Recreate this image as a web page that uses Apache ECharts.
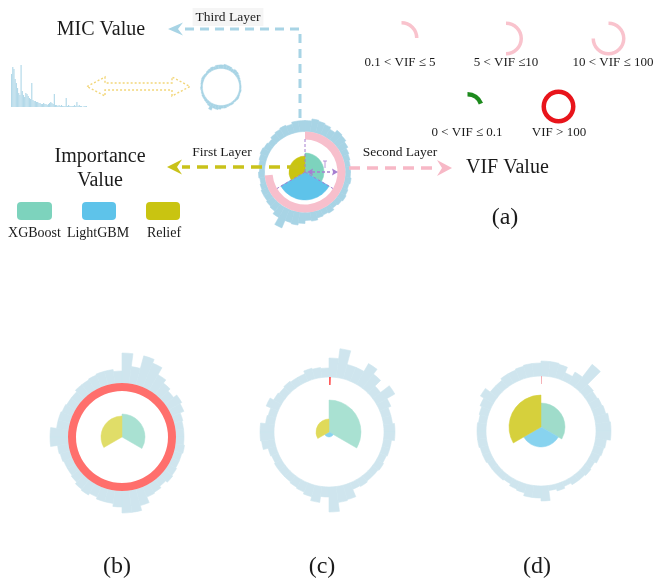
<!DOCTYPE html>
<html>
<head>
<meta charset="utf-8">
<script src="https://cdn.jsdelivr.net/npm/echarts@6/dist/echarts.min.js"></script>
<style>
  html, body { margin: 0; padding: 0; background: #fff; }
  #chart { width: 656px; height: 583px; }
</style>
</head>
<body>
<div id="chart"></div>
<script>
// ---- data -------------------------------------------------------------
const models = ['XGBoost', 'LightGBM', 'Relief'];
const features = Array.from({ length: 48 }, (_, i) => 'F' + (i + 1));

// MIC value of each feature, drawn as the outer bar ring (third layer)
const micA = [0.11, 0.13, 0.12, 0.11, 0.09, 0.12, 0.11, 0.09, 0.07, 0.06, 0.05, 0.05,
              0.05, 0.06, 0.05, 0.06, 0.07, 0.06, 0.05, 0.07, 0.06, 0.07, 0.09, 0.08,
              0.11, 0.13, 0.12, 0.20, 0.12, 0.09, 0.08, 0.07, 0.07, 0.06, 0.05, 0.06,
              0.05, 0.06, 0.07, 0.08, 0.07, 0.06, 0.08, 0.09, 0.10, 0.09, 0.11, 0.11];
const micB = [0.30, 0.17, 0.30, 0.26, 0.18, 0.14, 0.11, 0.15, 0.13, 0.09, 0.08, 0.08,
              0.08, 0.09, 0.08, 0.08, 0.09, 0.10, 0.08, 0.10, 0.11, 0.17, 0.22, 0.22,
              0.16, 0.13, 0.13, 0.11, 0.13, 0.12, 0.10, 0.09, 0.09, 0.10, 0.11, 0.18,
              0.18, 0.12, 0.12, 0.11, 0.10, 0.10, 0.12, 0.12, 0.13, 0.14, 0.14, 0.12];
const micC = [0.19, 0.29, 0.15, 0.15, 0.24, 0.18, 0.10, 0.21, 0.12, 0.09, 0.09, 0.11,
              0.11, 0.08, 0.08, 0.07, 0.08, 0.07, 0.07, 0.08, 0.07, 0.15, 0.16, 0.25,
              0.10, 0.16, 0.12, 0.10, 0.09, 0.08, 0.08, 0.08, 0.07, 0.08, 0.13, 0.14,
              0.14, 0.09, 0.08, 0.13, 0.09, 0.08, 0.09, 0.08, 0.08, 0.11, 0.10, 0.09];
const micD = [0.15, 0.15, 0.14, 0.08, 0.13, 0.29, 0.11, 0.10, 0.11, 0.12, 0.14, 0.15,
              0.15, 0.11, 0.10, 0.09, 0.07, 0.08, 0.07, 0.07, 0.05, 0.07, 0.05, 0.15,
              0.12, 0.12, 0.09, 0.08, 0.06, 0.07, 0.07, 0.07, 0.08, 0.08, 0.09, 0.09,
              0.09, 0.08, 0.09, 0.11, 0.15, 0.09, 0.09, 0.11, 0.11, 0.12, 0.13, 0.13];

// MIC values of all features as a plain bar chart (thumbnail)
const micSorted = [0.33, 0.40, 0.38, 0.28, 0.24, 0.19, 0.14, 0.12, 0.42, 0.16, 0.12, 0.10,
                   0.14, 0.13, 0.11, 0.09, 0.08, 0.24, 0.07, 0.06, 0.06, 0.05, 0.05, 0.04,
                   0.04, 0.03, 0.03, 0.04, 0.03, 0.03, 0.02, 0.03, 0.04, 0.05, 0.04, 0.03,
                   0.13, 0.02, 0.02, 0.01, 0.02, 0.01, 0.02, 0.01, 0.01, 0.01, 0.09, 0.01,
                   0.02, 0.01, 0.01, 0.01, 0.01, 0.02, 0.01, 0.05, 0.01, 0.02, 0.01, 0.01,
                   0.00, 0.01, 0.01, 0.01];
const thumbIds = micSorted.map((_, i) => 'f' + (i + 1));

// importance value per model (first layer): XGBoost, LightGBM, Relief
const impA = [0.19, 0.28, 0.16];
const impB = [0.23, 0.00, 0.21];
const impC = [0.32, 0.05, 0.13];
const impD = [0.24, 0.20, 0.32];

// VIF ring sweep in degrees (second layer)
const vifA = 265;
const vifB = 360;
const vifC = 2;
const vifD = 1;

// VIF legend classes
const vifClasses = ['0.1 < VIF \u2264 5', '5 < VIF \u226410', '10 < VIF \u2264 100', '0 < VIF \u2264 0.1', 'VIF > 100'];
const vifClassSweep = [90, 180, 270, 70, 360];

// ---- builders ---------------------------------------------------------
const polar = [], angleAxis = [], radiusAxis = [], series = [];
const hide = {
  axisLine: { show: false }, axisTick: { show: false }, axisLabel: { show: false },
  splitLine: { show: false }, splitArea: { show: false }
};

function addPolar(center, radius, ang, rad) {
  const idx = polar.length;
  polar.push({ center: center, radius: radius });
  angleAxis.push(Object.assign({ polarIndex: idx, startAngle: 90, clockwise: true }, hide, ang));
  radiusAxis.push(Object.assign({ polarIndex: idx }, hide, rad));
  return idx;
}

function micRing(center, radius, values, color, seam) {
  const p = addPolar(center, radius,
    { type: 'category', data: features, boundaryGap: true },
    { type: 'value', min: 0, max: 0.30 });
  series.push({
    type: 'bar', coordinateSystem: 'polar', polarIndex: p, data: values,
    barCategoryGap: '0%', silent: true,
    itemStyle: { color: color, borderColor: color, borderWidth: seam }
  });
}

function vifArc(center, radius, sweep, color) {
  const p = addPolar(center, radius,
    { type: 'value', min: 0, max: 360 },
    { type: 'category', data: ['VIF'] });
  series.push({
    type: 'bar', coordinateSystem: 'polar', polarIndex: p, data: [sweep],
    barCategoryGap: '0%', silent: true,
    itemStyle: { color: color }
  });
}

function importance(center, values, colors) {
  const p = addPolar(center, [0, 40],
    { type: 'category', data: models, boundaryGap: true },
    { type: 'value', min: 0, max: 0.40 });
  series.push({
    type: 'bar', coordinateSystem: 'polar', polarIndex: p,
    data: values.map((v, i) => ({ value: v, itemStyle: { color: colors[i], borderColor: colors[i], borderWidth: 0.5 } })),
    barCategoryGap: '0%', silent: true
  });
}

// (a) schematic
const palA = ['#7dd3bd', '#5ec3ea', '#c9c411'];
micRing([305, 172], [40.5, 70.5], micA, '#a8d4e5', 0.6);
vifArc([305, 172], [32.5, 40.5], vifA, '#f7bfcc');
importance([305, 172], impA, palA);
// thumbnail ring of the same MIC values
micRing([221, 87], [18.5, 28.5], micA, '#a8d4e5', 0.3);

// (b)
micRing([122, 437], [54, 84], micB, '#cfe5ee', 0.6);
vifArc([122, 437], [46, 54], vifB, '#ff6f6c');
importance([122, 437], impB, ['#a9e1d2', '#88d3ef', '#e0dd68']);
// (c)
micRing([329, 432], [55, 85], micC, '#cfe5ee', 0.6);
vifArc([329, 432], [47, 55], vifC, '#ff5c5c');
importance([329, 432], impC, ['#a9e1d2', '#88d3ef', '#e0da5a']);
// (d)
micRing([541, 431], [55, 85], micD, '#cfe5ee', 0.6);
vifArc([541, 431], [47, 55], vifD, '#f3a7ad');
importance([541, 427], impD, ['#9fdcca', '#88d3ef', '#d6d03c']);

// VIF legend arcs
const legendArcs = [
  { c: [401.5, 38], r: [13.5, 17], color: '#f9c3cd' },
  { c: [506, 38.5], r: [13.5, 17], color: '#f9c3cd' },
  { c: [608.5, 38.5], r: [13.5, 17], color: '#f9c3cd' },
  { c: [467.5, 108.5], r: [12, 16.5], color: '#1d8a1d' },
  { c: [558.5, 106.5], r: [12.5, 17], color: '#e8141b' }
];
legendArcs.forEach((a, i) => vifArc(a.c, a.r, vifClassSweep[i], a.color));

// MIC thumbnail bar chart
series.push({
  type: 'bar', xAxisIndex: 0, yAxisIndex: 0, data: micSorted, silent: true,
  barCategoryGap: '0%', itemStyle: { color: '#b3d9e9' }
});

// ---- annotations ------------------------------------------------------
const serif = '"Liberation Serif", "Times New Roman", serif';
function label(text, x, y, size, extra) {
  return {
    type: 'text', x: x, y: y, z: 20,
    style: Object.assign({ text: text, font: size + 'px ' + serif, fill: '#1b1b1b', align: 'center', verticalAlign: 'middle' }, extra || {})
  };
}
function dart(tipX, tipY, dir, len, half, notch, color) {
  return {
    type: 'polygon', z: 15,
    shape: { points: [[tipX, tipY], [tipX - dir * len, tipY - half], [tipX - dir * (len - notch), tipY], [tipX - dir * len, tipY + half]] },
    style: { fill: color }
  };
}
function dashed(points, color, width, dash) {
  return { type: 'polyline', z: 15, shape: { points: points }, style: { stroke: color, lineWidth: width, lineDash: dash, fill: null } };
}

const purple = '#a67fd0';
const elements = [
  // layer arrows
  dashed([[300, 118], [300, 29], [183, 29]], '#a8d4e5', 3, [9, 6]),
  dart(168, 29, -1, 15, 6.5, 5, '#a8d4e5'),
  dashed([[298, 167], [182, 167]], '#c9c21a', 3.5, [11, 7]),
  dart(167, 167, -1, 15, 7.5, 5, '#c9c21a'),
  dashed([[349, 168], [438, 168]], '#f7b8c6', 3.5, [11, 7]),
  dart(452, 168, 1, 15, 8, 5, '#f7b8c6'),

  // double arrow between the thumbnail bars and the thumbnail ring
  {
    type: 'polygon', z: 15,
    shape: { points: [[87, 86.5], [105, 77], [105, 83], [172, 83], [172, 77], [190, 86.5], [172, 96], [172, 90], [105, 90], [105, 96]] },
    style: { fill: null, stroke: '#f2d679', lineWidth: 1.4, lineDash: [2, 2] }
  },

  // purple guides inside the schematic
  dashed([[305, 172], [305, 139]], purple, 1, [3, 2]),
  dashed([[305, 172], [333, 188.5]], purple, 1, [3, 2]),
  dashed([[305, 172], [277, 188.5]], purple, 1, [3, 2]),
  dashed([[312, 172], [332, 172]], purple, 1.4, [3, 2]),
  dart(307, 172, -1, 6, 3.5, 1, purple),
  dart(338, 172, 1, 6, 3.5, 1, purple),
  { type: 'polyline', z: 15, shape: { points: [[323, 161], [327, 161]] }, style: { stroke: purple, lineWidth: 0.8, fill: null } },
  { type: 'polyline', z: 15, shape: { points: [[325, 161], [325, 168]] }, style: { stroke: purple, lineWidth: 0.8, fill: null } },

  // model legend
  { type: 'rect', z: 10, shape: { x: 17, y: 202, width: 35, height: 18, r: 4 }, style: { fill: palA[0] } },
  { type: 'rect', z: 10, shape: { x: 82, y: 202, width: 34, height: 18, r: 4 }, style: { fill: palA[1] } },
  { type: 'rect', z: 10, shape: { x: 146, y: 202, width: 34, height: 18, r: 4 }, style: { fill: palA[2] } },
  label(models[0], 34.5, 233, 14),
  label(models[1], 98, 233, 14),
  label(models[2], 164, 233, 14),

  // titles
  label('MIC Value', 101, 30, 20),
  label('Importance', 100, 157, 20),
  label('Value', 100, 181, 20),
  label('VIF Value', 466, 168, 20, { align: 'left' }),
  label('Third Layer', 228, 17, 13.5, { backgroundColor: '#f5f5f5', padding: [2, 3] }),
  label('First Layer', 222, 152, 13.5),
  label('Second Layer', 400, 152, 13.5),

  // VIF legend labels
  label(vifClasses[0], 400, 63, 13),
  label(vifClasses[1], 506, 63, 13),
  label(vifClasses[2], 613, 63, 13),
  label(vifClasses[3], 467, 133, 13),
  label(vifClasses[4], 559, 133, 13),

  // panel tags
  label('(a)', 505, 218, 24),
  label('(b)', 117, 567, 24),
  label('(c)', 322, 567, 24),
  label('(d)', 537, 567, 24)
];

const option = {
  animation: false,
  backgroundColor: '#ffffff',
  polar: polar,
  angleAxis: angleAxis,
  radiusAxis: radiusAxis,
  grid: [{ left: 11, top: 65, width: 76, height: 42 }],
  xAxis: [Object.assign({ type: 'category', data: thumbIds, gridIndex: 0 }, hide)],
  yAxis: [Object.assign({ type: 'value', min: 0, max: 0.42, gridIndex: 0 }, hide)],
  series: series,
  graphic: { elements: elements }
};

const chart = echarts.init(document.getElementById('chart'), null, { renderer: 'canvas' });
chart.setOption(option);
</script>
</body>
</html>
